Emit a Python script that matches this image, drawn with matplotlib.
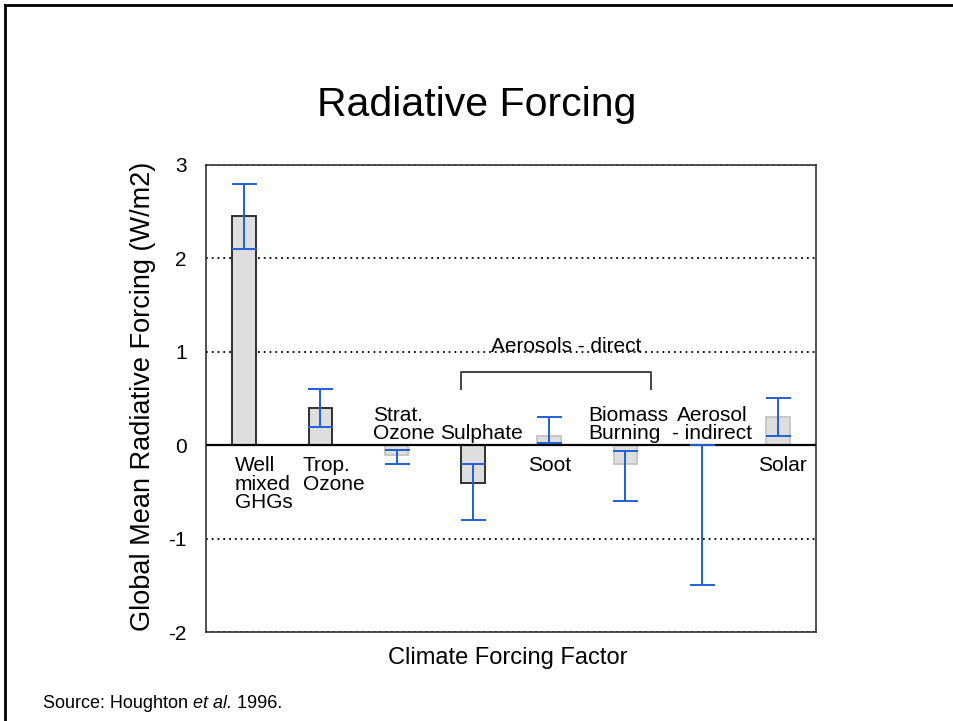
import matplotlib.pyplot as plt
from matplotlib.lines import Line2D
from matplotlib.transforms import offset_copy
import numpy as np

plt.rcParams['font.family'] = ['Liberation Sans', 'DejaVu Sans']

# data (W/m2)
categories = ['Well\nmixed\nGHGs', 'Trop.\nOzone', 'Strat.\nOzone', 'Sulphate',
              'Soot', 'Biomass\nBurning', 'Aerosol\n- indirect', 'Solar']
forcing = [2.45, 0.4, -0.1, -0.4, 0.1, -0.2, 0.0, 0.3]
err_low = [2.1, 0.2, -0.2, -0.8, 0.02, -0.6, -1.5, 0.1]
err_high = [2.8, 0.6, -0.05, -0.2, 0.3, -0.06, 0.0, 0.5]
confident = [True, True, False, True, False, False, False, False]
yticks = [-2, -1, 0, 1, 2, 3]

# label placement (x offset from bar centre, above/below the zero line, alignment)
label_layout = [(-0.12, 'below', 'left'), (-0.23, 'below', 'left'),
                (-0.31, 'above', 'left'), (-0.43, 'above', 'left'),
                (-0.28, 'below', 'left'), (-0.49, 'above', 'left'),
                (0.14, 'above', 'center'), (-0.26, 'below', 'left')]

fig = plt.figure(figsize=(9.54, 7.21), dpi=100)
ax = fig.add_axes([0.2159, 0.1234, 0.6394, 0.6478])

x = np.arange(len(categories))
edges = ['#222222' if c else '#c4c4c4' for c in confident]
ax.bar(x, forcing, width=0.31, color='#dedede', edgecolor=edges, linewidth=1.3, zorder=2)

low = np.array(err_low)
high = np.array(err_high)
ax.errorbar(x, low, yerr=[np.zeros_like(low), high - low], fmt='none',
            ecolor='#1f5fd6', elinewidth=1.4, capsize=9, capthick=1.4, zorder=4)

ax.axhline(0, color='black', lw=1.6, zorder=3)

# category labels sitting next to the bars
for i, (name, (dx, side, ha)) in enumerate(zip(categories, label_layout)):
    if side == 'above':
        ax.text(i + dx, 0.02, name, ha=ha, va='bottom', fontsize=15,
                linespacing=0.95, multialignment=ha, zorder=5)
    else:
        ax.text(i + dx, -0.12, name, ha=ha, va='top', fontsize=15,
                linespacing=0.95, multialignment=ha, zorder=5)

# bracket grouping the direct aerosol effects
ax.plot([2.84, 2.84, 5.34, 5.34], [0.6, 0.78, 0.78, 0.6], color='#444444', lw=1.4)
ax.text(4.22, 1.0, 'Aerosols - direct', ha='center', va='baseline', fontsize=15)

ax.set_xlim(-0.5, 7.5)
ax.set_ylim(-2, 3)
ax.set_xticks([])
ax.set_yticks(yticks)
ax.set_yticklabels([str(t) for t in yticks], fontsize=15)
ax.tick_params(axis='y', length=0, pad=14)
ax.yaxis.grid(True, linestyle=(0, (1, 2.2)), color='black', lw=1.3)
ax.set_axisbelow(True)
for s in ax.spines.values():
    s.set_color('#333333')
    s.set_linewidth(1.2)

ax.set_ylabel('Global Mean Radiative Forcing (W/m2)', fontsize=19.5)
ax.yaxis.set_label_coords(-0.082, 0.505)
ax.set_xlabel('Climate Forcing Factor', fontsize=17)
ax.xaxis.set_label_coords(0.495, -0.032)

fig.text(0.5, 0.855, 'Radiative Forcing', ha='center', va='center', fontsize=29.5)

# source line, italic "et al." placed after the measured roman part
renderer = fig.canvas.get_renderer()
src = fig.text(43 / 954, 18 / 721, 'Source: Houghton ', ha='left', va='center', fontsize=13)
w = src.get_window_extent(renderer).width
tr = offset_copy(fig.transFigure, fig=fig, x=w * 72 / fig.dpi, units='points')
etal = fig.text(43 / 954, 18 / 721, 'et al.', ha='left', va='center', fontsize=13,
                style='italic', transform=tr)
w += etal.get_window_extent(renderer).width
tr = offset_copy(fig.transFigure, fig=fig, x=w * 72 / fig.dpi, units='points')
fig.text(43 / 954, 18 / 721, ' 1996.', ha='left', va='center', fontsize=13, transform=tr)

# slide frame (top and left edges only)
fig.add_artist(Line2D([5 / 954, 1], [1 - 5 / 721, 1 - 5 / 721], color='black', lw=2))
fig.add_artist(Line2D([5 / 954, 5 / 954], [0, 1 - 5 / 721], color='black', lw=2))

plt.savefig('out.png', dpi=100)
